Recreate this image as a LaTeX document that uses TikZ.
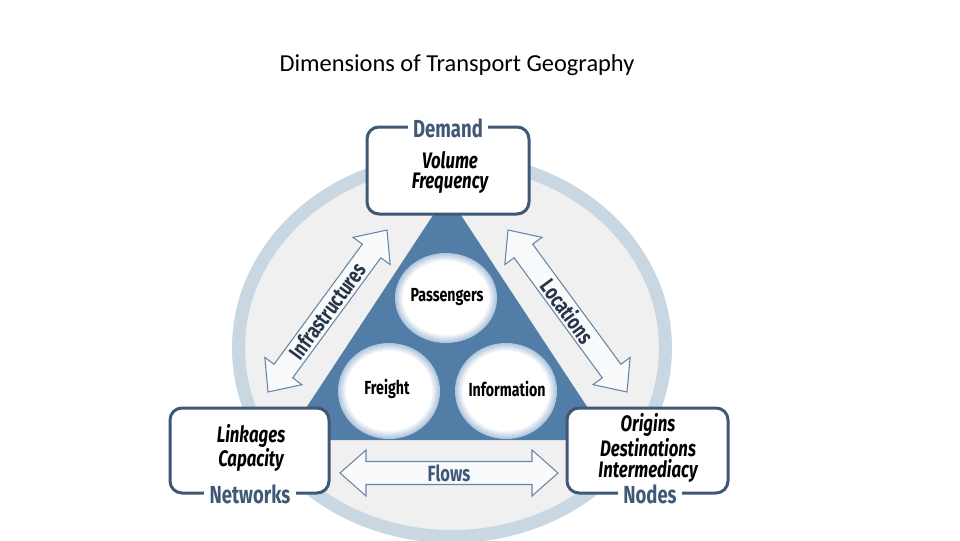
\documentclass[tikz,border=0pt]{standalone}
\usepackage{fontspec}
\setmainfont{Carlito}
\newfontfamily\agency[FakeStretch=0.75]{Fira Sans}
\usetikzlibrary{calc}
\definecolor{ringc}{RGB}{200,215,225}
\definecolor{innerc}{RGB}{240,240,240}
\definecolor{tric}{RGB}{82,125,166}
\definecolor{boxc}{RGB}{62,88,117}
\definecolor{arrowc}{RGB}{105,135,165}
\definecolor{arrowfill}{RGB}{248,250,252}
\definecolor{arrowtext}{RGB}{40,55,72}
\definecolor{glowc}{RGB}{175,198,222}
\tikzset{
  boxst/.style={draw=boxc, line width=2.25pt, rounded corners=9pt, fill=white, inner sep=0pt},
  lblst/.style={fill=white, inner xsep=4pt, inner ysep=0pt, text=boxc, font=\agency\bfseries\fontsize{18.5}{20}\selectfont},
  itst/.style={font=\agency\bfseries\itshape\fontsize{16.8}{18}\selectfont, text=black, inner sep=0pt},
  circtext/.style={font=\agency\bfseries\fontsize{14.2}{16}\selectfont, text=black, inner sep=0pt},
  arrowst/.style={draw=arrowc, line width=0.8pt, fill=arrowfill, line join=miter},
  arrowlbl/.style={font=\agency\bfseries\fontsize{16.5}{18}\selectfont, text=arrowtext, inner sep=0pt}
}
\newcommand{\blockarrow}[3]{%
  \begin{scope}[shift={#1}, rotate=#2]
    \draw[arrowst] (0,0) -- (26,23) -- (26,11.5) -- (#3-26,11.5) -- (#3-26,23) -- (#3,0)
      -- (#3-26,-23) -- (#3-26,-11.5) -- (26,-11.5) -- (26,-23) -- cycle;
  \end{scope}}
\begin{document}
\begin{tikzpicture}[x=0.75pt,y=-0.75pt]
\useasboundingbox (0,0) rectangle (960,540);
\fill[white] (0,0) rectangle (960,540);
\begin{scope}
\clip (0,0) rectangle (960,540);
% title
\node[font=\fontsize{18.3}{22}\selectfont] (title) at (457,65) {Dimensions of Transport Geography};
% big ellipse
\draw[ringc, line width=9.75pt, fill=innerc] (452,348) ellipse (213.5 and 188.5);
% triangle
\fill[tric] (447,194) -- (285,440) -- (609,440) -- cycle;
% glowing ellipses
\foreach \cx/\cy/\rx/\ry in {446/298/51/45, 389/391/51/48, 506/391/51/48}{
  \foreach \i in {0,...,8}{
    \pgfmathsetmacro\p{\i*12.5}
    \fill[white!\p!glowc] (\cx,\cy) ellipse ({\rx-\i} and {\ry-\i});
  }
}
\node[circtext] (pass) at (447,297) {Passengers};
\node[circtext] (frei) at (387,389) {Freight};
\node[circtext] (info) at (507,389) {Information};
% arrows
\coordinate (infA) at (268,392);
\coordinate (infB) at (387,230);
\coordinate (locA) at (508,230);
\coordinate (locB) at (627,392);
\coordinate (flwA) at (340,473);
\coordinate (flwB) at (558,473);
\blockarrow{(infA)}{53.7}{201}
\blockarrow{(locA)}{-53.7}{201}
\blockarrow{(flwA)}{0}{218}
\node[arrowlbl, rotate=53.7] (infl) at ($(infA)!0.5!(infB)$) {Infrastructures};
\node[arrowlbl, rotate=-53.7] (locl) at ($(locA)!0.5!(locB)$) {Locations};
\node[arrowlbl, text=boxc] (flwl) at ($(flwA)!0.5!(flwB)$) {Flows};
% boxes
\node[boxst, minimum width=121.5pt, minimum height=65.25pt] (demand) at (448,170.5) {};
\node[boxst, minimum width=119.25pt, minimum height=63.75pt] (networks) at (249.5,450.5) {};
\node[boxst, minimum width=120.75pt, minimum height=63.75pt] (nodes) at (647.5,450.5) {};
\node[lblst] (demandl) at (448,128) {Demand};
\node[lblst] (networksl) at (250,494) {Networks};
\node[lblst] (nodesl) at (650,494) {Nodes};
\node[itst] (vol) at (450,160) {Volume};
\node[itst] (freq) at (450,183) {Frequency};
\node[itst] (link) at (251,436) {Linkages};
\node[itst] (cap) at (251,460) {Capacity};
\node[itst] (orig) at (648,425) {Origins};
\node[itst] (dest) at (648,448) {Destinations};
\node[itst] (inter) at (648,471) {Intermediacy};
\end{scope}
\end{tikzpicture}
\end{document}
